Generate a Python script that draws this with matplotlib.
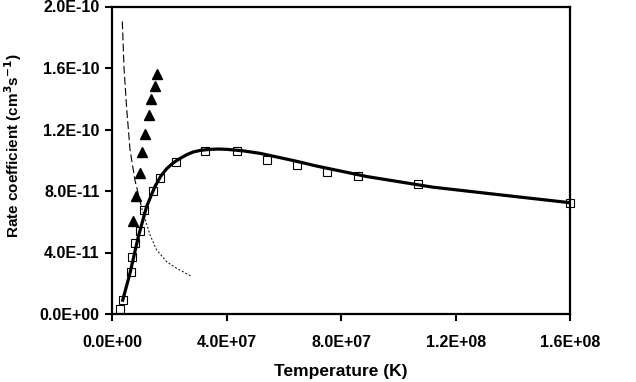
import matplotlib
matplotlib.use("Agg")
import matplotlib.pyplot as plt
from matplotlib.ticker import FuncFormatter

plt.rcParams["font.family"] = ["Liberation Sans", "DejaVu Sans"]
plt.rcParams["font.weight"] = "bold"

# measured points (open squares)
t_sq = [2.7e6, 3.9e6, 6.4e6, 6.8e6, 7.9e6, 9.7e6, 11.1e6, 14.1e6, 16.7e6, 22.2e6,
        32.4e6, 43.5e6, 54e6, 64.6e6, 75e6, 86e6, 107e6, 160e6]
k_sq = [3.1e-12, 9.1e-12, 2.75e-11, 3.73e-11, 4.6e-11, 5.4e-11, 6.77e-11, 8.03e-11, 8.83e-11, 9.91e-11,
        1.057e-10, 1.057e-10, 1.0e-10, 9.7e-11, 9.26e-11, 9.0e-11, 8.46e-11, 7.25e-11]

# filled triangles
t_tri = [7.3e6, 8.4e6, 9.6e6, 10.4e6, 11.6e6, 12.7e6, 13.7e6, 15.0e6, 15.8e6]
k_tri = [6.07e-11, 7.67e-11, 9.15e-11, 1.052e-10, 1.171e-10, 1.294e-10, 1.396e-10, 1.483e-10, 1.561e-10]

# solid fit
t_fit = [3.5e6, 6.2e6, 9.1e6, 12.0e6, 14.9e6, 17.0e6, 19.0e6, 21.3e6, 23.7e6, 26.0e6, 28.3e6, 31.0e6,
         34.2e6, 37.0e6, 40e6, 45.8e6, 51.6e6, 63.3e6, 71.5e6, 89e6, 112e6, 135.6e6, 160.4e6]
k_fit = [8.0e-12, 2.67e-11, 5.03e-11, 6.99e-11, 8.29e-11, 8.98e-11, 9.45e-11, 9.83e-11, 1.012e-10, 1.036e-10,
         1.054e-10, 1.065e-10, 1.071e-10, 1.073e-10, 1.071e-10, 1.061e-10, 1.045e-10, 9.98e-11, 9.62e-11,
         8.94e-11, 8.25e-11, 7.75e-11, 7.23e-11]

# dashed curve
t_dash = [3.5e6, 4.1e6, 5.0e6, 6.2e6, 7.9e6, 10.3e6, 13.2e6, 15.5e6, 19.0e6, 22.5e6, 27.5e6]
k_dash = [1.903e-10, 1.601e-10, 1.341e-10, 1.068e-10, 8.72e-11, 6.88e-11, 5.14e-11, 4.17e-11, 3.40e-11,
          2.97e-11, 2.47e-11]

x_ticks = [0, 4e7, 8e7, 1.2e8, 1.6e8]
y_ticks = [0, 4e-11, 8e-11, 1.2e-10, 1.6e-10, 2.0e-10]

fig = plt.figure(figsize=(6.36, 3.82), dpi=100)
ax = fig.add_axes([112.3 / 636, 68 / 382, (570 - 112.3) / 636, (314 - 6.5) / 382])

ax.plot(t_dash[:6], k_dash[:6], color="black", lw=0.8, linestyle=(0, (7, 3)))
ax.plot(t_dash[5:], k_dash[5:], color="black", lw=0.7, linestyle=(0, (2, 2)))
ax.plot(t_fit, k_fit, color="black", lw=2.3, solid_capstyle="butt", solid_joinstyle="round")
ax.plot(t_sq, k_sq, linestyle="none", marker="s", markersize=6, fillstyle="none",
        markeredgecolor="black", markeredgewidth=0.8, clip_on=False)
ax.plot(t_tri, k_tri, linestyle="none", marker="^", markersize=7, color="black")

ax.set_xlim(0, 1.6e8)
ax.set_ylim(0, 2.0e-10)
ax.set_xticks(x_ticks)
ax.set_yticks(y_ticks)
fmt = FuncFormatter(lambda v, p: "{:.1E}".format(v))
ax.xaxis.set_major_formatter(fmt)
ax.yaxis.set_major_formatter(fmt)
ax.tick_params(direction="out", length=5, width=1.5, labelsize=11.5)
ax.tick_params(axis="x", pad=10)
ax.tick_params(axis="y", pad=4)
for s in ax.spines.values():
    s.set_linewidth(1.6)

ax.set_xlabel("Temperature (K)", fontsize=12.5, fontweight="bold", labelpad=10)
fig.text(13 / 636, 1 - 146 / 382, "Rate coefficient (cm$^{\\mathbf{3}}$s$^{\\mathbf{-1}}$)",
         rotation=90, ha="center", va="center", fontsize=11, fontweight="bold")

fig.savefig("out.png", dpi=100)
